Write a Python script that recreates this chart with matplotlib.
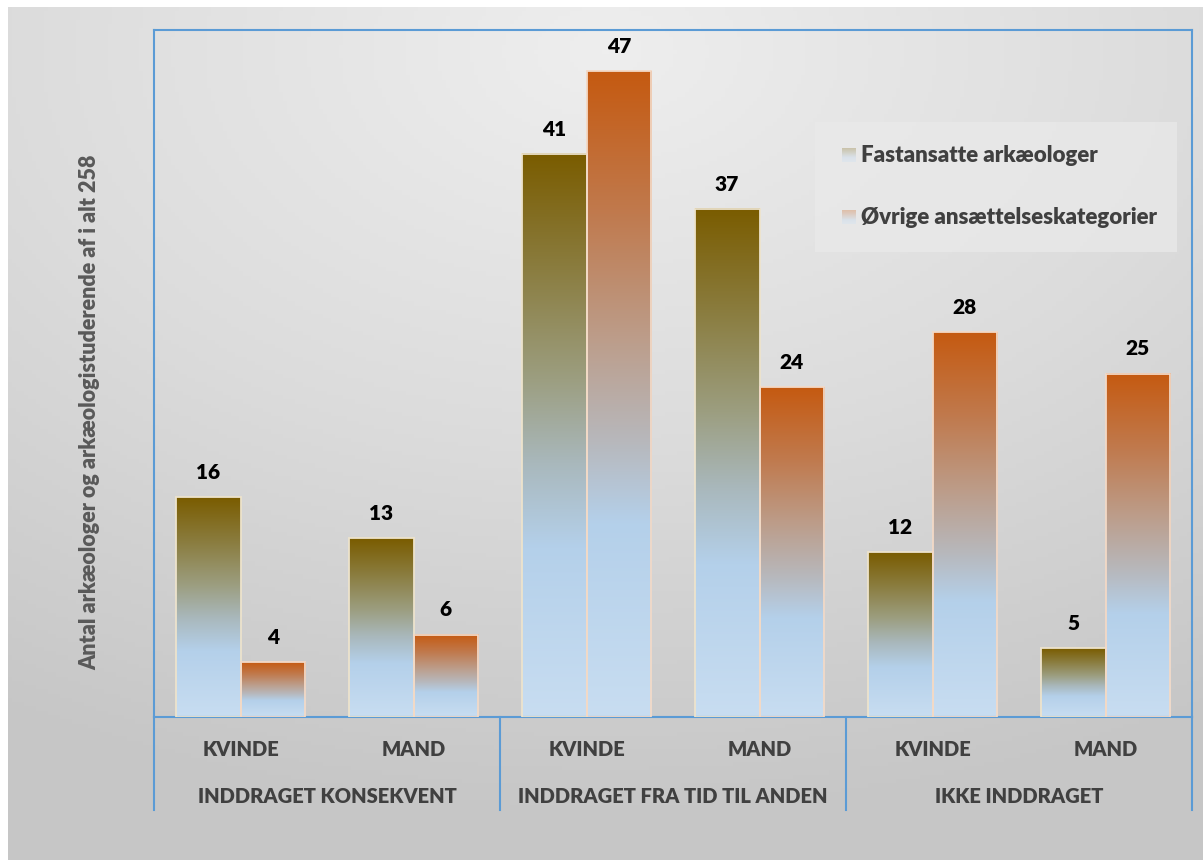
import numpy as np
import matplotlib.pyplot as plt
from matplotlib.colors import LinearSegmentedColormap
from matplotlib.patches import Rectangle
from matplotlib.lines import Line2D

plt.rcParams['font.family'] = ['Lato', 'DejaVu Sans']

# data
groups = ["INDDRAGET KONSEKVENT", "INDDRAGET FRA TID TIL ANDEN", "IKKE INDDRAGET"]
genders = ["KVINDE", "MAND"]
fastansatte = [16, 13, 41, 37, 12, 5]
oevrige = [4, 6, 47, 24, 28, 25]
series_names = ["Fastansatte arkæologer", "Øvrige ansættelseskategorier"]
ylabel = "Antal arkæologer og arkæologistuderende af i alt 258"

W, H = 1203, 860
fig = plt.figure(figsize=(W / 100, H / 100), dpi=100)
fig.patch.set_facecolor("white")

# baggrund med gradient
bg = fig.add_axes([8 / W, 0, 1 - 8 / W, (H - 7) / H])
yy, xx = np.mgrid[0:1:200j, 0:1:300j]
d = np.sqrt((xx - 0.5) ** 2 + ((yy - 0.95) * 1.1) ** 2)
d = np.clip(d, 0, 1)
bgc = LinearSegmentedColormap.from_list("bg", ["#EEEEEE", "#DCDCDC", "#C6C6C6"])
bg.imshow(d, cmap=bgc, origin="lower", aspect="auto", extent=[0, 1, 0, 1], vmin=0, vmax=1)
bg.axis("off")

cm_olive = LinearSegmentedColormap.from_list("olive", [
    (0.0, "#C8DDF1"), (0.30, "#B4D0EA"), (0.45, "#A9B8BC"),
    (0.60, "#9C9E80"), (0.80, "#8A7C3E"), (1.0, "#7A5C00")])
cm_orange = LinearSegmentedColormap.from_list("orange", [
    (0.0, "#C8DDF1"), (0.30, "#B4D0EA"), (0.42, "#B7B9BE"),
    (0.58, "#BC9E8C"), (0.78, "#C07A4E"), (1.0, "#C55A11")])

ax = fig.add_axes([154 / W, (H - 717) / H, (1192 - 154) / W, (717 - 30) / H])
ax.patch.set_alpha(0)
grad = np.linspace(0, 1, 256).reshape(-1, 1)

bw = 0.375
for i in range(6):
    for vals, cmap, off, ec in [(fastansatte, cm_olive, -bw / 2, "#EDE3CC"),
                                (oevrige, cm_orange, bw / 2, "#F3D9C6")]:
        v = vals[i]
        xc = i + 0.5 + off
        x0, x1 = xc - bw / 2, xc + bw / 2
        ax.imshow(grad, cmap=cmap, origin="lower", aspect="auto",
                  extent=[x0, x1, 0, v], zorder=2)
        ax.add_patch(Rectangle((x0, 0), bw, v, fill=False, edgecolor=ec, lw=1.3, zorder=3))
        ax.text(xc, v + 1.1, str(v), ha="center", va="bottom", fontsize=15,
                fontweight="heavy", color="black")
ax.set_xlim(0, 6)
ax.set_ylim(0, 50)

for s in ax.spines.values():
    s.set_color("#5B9BD5")
    s.set_linewidth(1.5)
ax.set_xticks([])
ax.set_yticks([])

# kategori-akse i to niveauer
for k in range(4):
    ax.add_line(Line2D([k * 2, k * 2], [0, -6.8], color="#5B9BD5", lw=1.5, clip_on=False))
for i in range(6):
    ax.text(i + 0.5, -2.35, genders[i % 2], ha="center", va="center", fontsize=14.5,
            fontweight="heavy", color="#404040")
for g in range(3):
    ax.text(2 * g + 1, -5.75, groups[g], ha="center", va="center", fontsize=14.5,
            fontweight="heavy", color="#404040")

fig.text(90 / W, 1 - 412 / H, ylabel, rotation=90, ha="center", va="center",
         fontsize=15.5, fontweight="heavy", color="#595959")

# legend
fig.patches.append(Rectangle((815 / W, 1 - 252 / H), (1177 - 815) / W, 130 / H,
                             transform=fig.transFigure, facecolor="#EAEAEA", edgecolor="none",
                             alpha=0.7, zorder=1))
for j, (name, cmap) in enumerate(zip(series_names, [cm_olive, cm_orange])):
    yc = 155 + j * 62
    lax = fig.add_axes([842 / W, 1 - (yc + 7) / H, 14 / W, 14 / H])
    lax.imshow(grad, cmap=cmap, origin="lower", aspect="auto", extent=[0, 1, 0, 1])
    lax.axis("off")
    fig.text(861 / W, 1 - yc / H, name, ha="left", va="center", fontsize=16,
             fontweight="heavy", color="#404040")

fig.savefig("out.png", dpi=100)
